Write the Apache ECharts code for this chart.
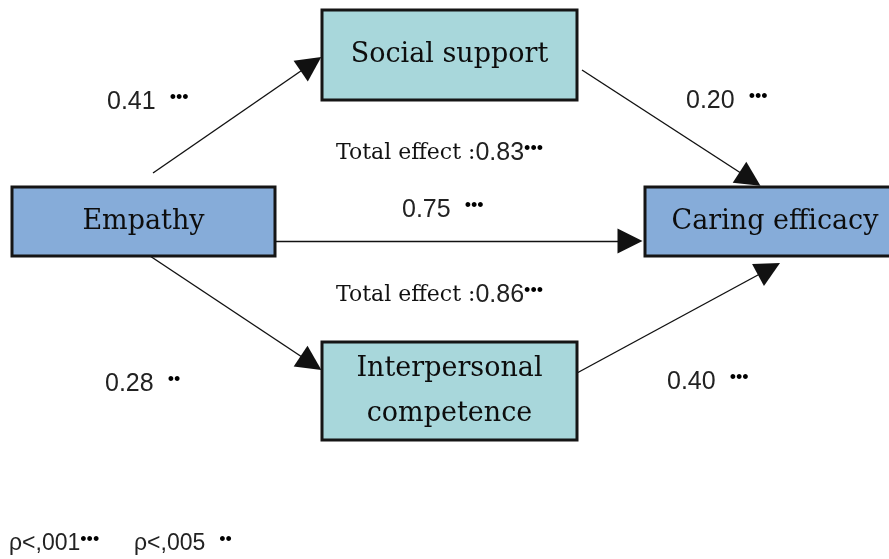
<!DOCTYPE html>
<html>
<head>
<meta charset="utf-8">
<script src="https://cdn.jsdelivr.net/npm/echarts@6/dist/echarts.min.js"></script>
<style>
  html, body { margin: 0; padding: 0; background: #fff; }
  #main { width: 889px; height: 559px; }
</style>
</head>
<body>
<div id="main"></div>
<script>
// variables in the path model
const boxNames = ['Social support', 'Empathy', 'Caring efficacy', 'Interpersonal\ncompetence']
const boxKind = ['mediator', 'outer', 'outer', 'mediator']

// path coefficients (from -> to) and significance stars
const pathFrom = ['Empathy', 'Social support', 'Empathy', 'Empathy', 'Interpersonal competence']
const pathTo = ['Social support', 'Caring efficacy', 'Caring efficacy', 'Interpersonal competence', 'Caring efficacy']
const pathCoef = ['0.41', '0.20', '0.75', '0.28', '0.40']
const pathStars = ['•••', '•••', '•••', '••', '•••']

// total effects through each mediator
const totalEffects = ['0.83', '0.86']
const totalStars = ['•••', '•••']

// footnote
const sigLevels = ['ρ<,001', 'ρ<,005']
const sigStars = ['•••', '••']

// layout (pixel units on a hidden 889 x 559 axis)
const boxCenter = [[449.5, 55], [143.5, 221.5], [775, 221.5], [449.5, 391]]
const boxSize = [[255, 90], [263, 69], [260, 69], [255, 98]]
const arrowStart = [[153, 173], [582, 70], [275, 241], [147, 254], [577, 373]]
const arrowEnd = [[311, 64], [750, 179], [630, 241], [311, 363], [769, 269]]
const coefPos = [[107, 102], [686, 101], [402, 210], [105, 384], [667, 382]]
const totalPos = [[336, 153], [336, 295]]
const sigPos = [[9, 544], [134, 544]]

const myChart = echarts.init(document.getElementById('main'))

const boxColor = { mediator: '#a8d7db', outer: '#86acd9' }

const boxData = boxNames.map((name, i) => ({
  name: name,
  value: [boxCenter[i][0], boxCenter[i][1], boxSize[i][0], boxSize[i][1]]
}))

const arrowData = pathFrom.map((f, i) => ({
  name: f + ' -> ' + pathTo[i],
  coords: [arrowStart[i], arrowEnd[i]]
}))

const coefData = pathCoef.map((c, i) => ({
  value: coefPos[i],
  label: { formatter: '{n|' + c + '}{g|' + pathStars[i] + '}' }
}))
const totalData = totalEffects.map((c, i) => ({
  value: totalPos[i],
  label: { formatter: '{t|Total effect :}{n|' + c + '}{s|' + totalStars[i] + '}' }
}))
const sigData = sigLevels.map((c, i) => ({
  value: sigPos[i],
  label: { formatter: '{f|' + c + '}{' + (i === 1 ? 'g' : 's') + '|' + sigStars[i] + '}' }
}))

const starBase = { fontFamily: 'Liberation Sans', fontSize: 18, color: '#000' }

const textLabel = {
  show: true,
  position: 'right',
  distance: 0,
  color: '#111',
  rich: {
    n: { fontFamily: 'Liberation Sans', fontSize: 25, color: '#222' },
    s: Object.assign({ padding: [0, 0, 8, 0] }, starBase),
    g: Object.assign({ padding: [0, 0, 8, 14] }, starBase),
    t: { fontFamily: 'DejaVu Serif', fontSize: 22, color: '#111' },
    f: { fontFamily: 'Liberation Sans', fontSize: 23, color: '#222' }
  }
}

function renderBox (params, api) {
  const c = api.coord([api.value(0), api.value(1)])
  const s = api.size([api.value(2), api.value(3)])
  const i = params.dataIndex
  return {
    type: 'rect',
    shape: { x: c[0] - s[0] / 2, y: c[1] - s[1] / 2, width: s[0], height: s[1] },
    style: { fill: boxColor[boxKind[i]], stroke: '#151515', lineWidth: 3 },
    textContent: {
      style: {
        text: boxNames[i],
        font: '27px "DejaVu Serif"',
        fill: '#0d0d0d',
        align: 'center',
        verticalAlign: 'middle',
        lineHeight: 45
      }
    },
    textConfig: { position: 'inside' }
  }
}

const option = {
  animation: false,
  backgroundColor: '#ffffff',
  grid: { left: 0, right: 0, top: 0, bottom: 0 },
  xAxis: { type: 'value', min: 0, max: 889, show: false },
  yAxis: { type: 'value', min: 0, max: 559, inverse: true, show: false },
  series: [
    {
      type: 'lines',
      coordinateSystem: 'cartesian2d',
      symbol: ['none', 'triangle'],
      symbolSize: 25,
      lineStyle: { color: '#111', width: 1.4, opacity: 1, curveness: 0 },
      data: arrowData,
      z: 1
    },
    {
      type: 'custom',
      renderItem: renderBox,
      clip: false,
      data: boxData,
      z: 3
    },
    {
      type: 'scatter',
      symbolSize: 0,
      itemStyle: { opacity: 1 },
      label: textLabel,
      emphasis: { disabled: true },
      data: coefData.concat(totalData, sigData),
      z: 4
    }
  ]
}
myChart.setOption(option, true)
</script>
</body>
</html>
